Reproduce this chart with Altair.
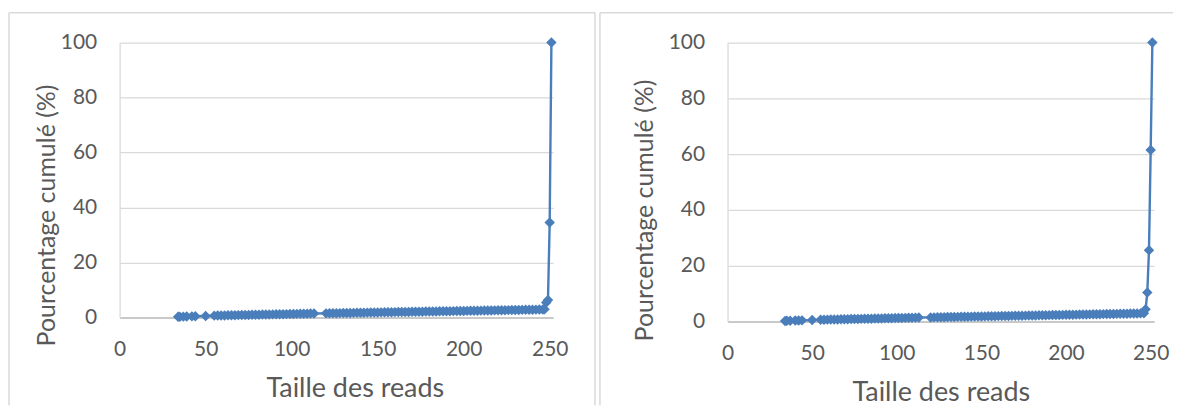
import altair as alt
import pandas as pd

# ---------------- data ----------------
x_ticks = [0, 50, 100, 150, 200, 250]
y_ticks = [0, 20, 40, 60, 80, 100]

left_len = [34, 35, 37, 39, 42, 44, 50,
            55, 57, 59, 61, 63, 65, 67, 69, 71, 73,
            75, 77, 79, 81, 83, 85, 87, 89, 91, 93,
            95, 97, 99, 101, 103, 105, 107, 109, 111, 113,
            120, 122, 124, 126, 128, 130, 132, 134, 136, 138,
            140, 142, 144, 146, 148, 150, 152, 154, 156, 158,
            160, 162, 164, 166, 168, 170, 172, 174, 176, 178,
            180, 182, 184, 186, 188, 190, 192, 194, 196, 198,
            200, 202, 204, 206, 208, 210, 212, 214, 216, 218,
            220, 222, 224, 226, 228, 230, 232, 234, 236, 238,
            240, 242, 244, 246,
            247, 248, 249, 250, 251]
left_pct = [0.30, 0.33, 0.36, 0.42, 0.46, 0.50, 0.60,
            0.72, 0.75, 0.78, 0.80, 0.83, 0.86, 0.88, 0.91, 0.94, 0.96,
            0.99, 1.02, 1.04, 1.07, 1.10, 1.12, 1.15, 1.18, 1.20, 1.23,
            1.26, 1.28, 1.31, 1.34, 1.36, 1.39, 1.42, 1.44, 1.47, 1.50,
            1.55, 1.57, 1.59, 1.62, 1.64, 1.66, 1.68, 1.71, 1.73, 1.75,
            1.77, 1.79, 1.82, 1.84, 1.86, 1.88, 1.91, 1.93, 1.95, 1.97,
            2.00, 2.02, 2.04, 2.06, 2.08, 2.11, 2.13, 2.15, 2.17, 2.20,
            2.22, 2.24, 2.26, 2.28, 2.31, 2.33, 2.35, 2.37, 2.40, 2.42,
            2.44, 2.46, 2.48, 2.51, 2.53, 2.55, 2.57, 2.60, 2.62, 2.64,
            2.66, 2.68, 2.71, 2.73, 2.75, 2.77, 2.80, 2.82, 2.84, 2.86,
            2.88, 2.91, 2.93, 2.95,
            3.00, 5.50, 6.40, 34.6, 100.0]

right_len = [34, 35, 37, 40, 42, 44, 50,
             55, 57, 59, 61, 63, 65, 67, 69, 71, 73,
             75, 77, 79, 81, 83, 85, 87, 89, 91, 93,
             95, 97, 99, 101, 103, 105, 107, 109, 111, 113,
             120, 122, 124, 126, 128, 130, 132, 134, 136, 138,
             140, 142, 144, 146, 148, 150, 152, 154, 156, 158,
             160, 162, 164, 166, 168, 170, 172, 174, 176, 178,
             180, 182, 184, 186, 188, 190, 192, 194, 196, 198,
             200, 202, 204, 206, 208, 210, 212, 214, 216, 218,
             220, 222, 224, 226, 228, 230, 232, 234, 236, 238,
             240, 242, 244, 246,
             247, 248, 249, 250, 251]
right_pct = [0.25, 0.28, 0.32, 0.38, 0.42, 0.45, 0.55,
             0.65, 0.68, 0.71, 0.73, 0.76, 0.79, 0.82, 0.84, 0.87, 0.90,
             0.93, 0.95, 0.98, 1.01, 1.04, 1.06, 1.09, 1.12, 1.15, 1.17,
             1.20, 1.23, 1.26, 1.28, 1.31, 1.34, 1.37, 1.39, 1.42, 1.45,
             1.50, 1.52, 1.55, 1.57, 1.59, 1.62, 1.64, 1.66, 1.69, 1.71,
             1.73, 1.76, 1.78, 1.80, 1.83, 1.85, 1.87, 1.90, 1.92, 1.94,
             1.97, 1.99, 2.01, 2.04, 2.06, 2.08, 2.11, 2.13, 2.15, 2.18,
             2.20, 2.22, 2.25, 2.27, 2.29, 2.32, 2.34, 2.36, 2.39, 2.41,
             2.43, 2.46, 2.48, 2.50, 2.53, 2.55, 2.57, 2.60, 2.62, 2.64,
             2.67, 2.69, 2.71, 2.74, 2.76, 2.78, 2.81, 2.83, 2.85, 2.88,
             2.90, 2.92, 2.95, 2.97,
             4.40, 10.4, 25.6, 61.5, 100.0]

x_title = "Taille des reads"
y_title = "Pourcentage cumulé (%)"

BLUE = "#4A7EBB"
TEXT = "#595959"
GRID = "#D9D9D9"
AXIS = "#BFBFBF"
FONT = "Lato"


def panel(lens, pcts, w, h, xt_x, yt_x, yt_y, frame_l, frame_r, frame_t, frame_b, right_side=True):
    df = pd.DataFrame({"len": lens, "pct": pcts})
    x = alt.X("len:Q",
              scale=alt.Scale(domain=[0, 252], nice=False, zero=True),
              axis=alt.Axis(values=x_ticks, grid=False, ticks=False,
                            domain=True, domainColor=AXIS, domainWidth=1.5,
                            labelFont=FONT, labelFontSize=21, labelColor=TEXT,
                            labelPadding=21, labelFlush=False,
                            title=x_title, titleFont=FONT, titleFontSize=27,
                            titleFontWeight="normal", titleColor=TEXT,
                            titleX=xt_x, titleY=79, titleBaseline="alphabetic",
                            titleAlign="center"))
    y = alt.Y("pct:Q",
              scale=alt.Scale(domain=[0, 100], nice=False),
              axis=alt.Axis(values=y_ticks, grid=True, gridColor=GRID, gridWidth=1.25,
                            ticks=False, domain=True, domainColor=GRID, domainWidth=1.25,
                            labelFont=FONT, labelFontSize=21, labelColor=TEXT,
                            labelPadding=23,
                            title=y_title, titleFont=FONT, titleFontSize=25,
                            titleFontWeight="normal", titleColor=TEXT,
                            titleX=yt_x, titleY=yt_y, titleBaseline="middle",
                            titleAlign="center"))
    base = alt.Chart(df)
    line = base.mark_line(color=BLUE, strokeWidth=2.4).encode(x=x, y=y)
    pts = base.mark_point(shape="diamond", filled=True, size=110, color=BLUE,
                          opacity=1).encode(x="len:Q", y="pct:Q")

    one = alt.Chart(pd.DataFrame({"k": [0]}))
    rules = [
        one.mark_rule(color=GRID, strokeWidth=1.5).encode(
            x=alt.value(frame_l), x2=alt.value(frame_r), y=alt.value(frame_t)),
        one.mark_rule(color=GRID, strokeWidth=1.5).encode(
            x=alt.value(frame_l), y=alt.value(frame_t), y2=alt.value(frame_b)),
    ]
    if right_side:
        rules.append(one.mark_rule(color=GRID, strokeWidth=1.5).encode(
            x=alt.value(frame_r), y=alt.value(frame_t), y2=alt.value(frame_b)))
    return alt.layer(*rules, line, pts).properties(width=w, height=h)


left = panel(left_len, left_pct, 435, 276, 236, -73, 173,
             -111, 477, -30, 364, right_side=True)
right = panel(right_len, right_pct, 428, 280, 214, -83, 168,
              -128, 447, -30, 364, right_side=False)

chart = alt.hconcat(left, right).properties(
    padding={"left": 0, "top": 3, "right": 0, "bottom": 0}
).configure_concat(spacing=3).configure_view(strokeWidth=0)

chart.save("out.html", embed_options={"renderer": "svg", "actions": False})
